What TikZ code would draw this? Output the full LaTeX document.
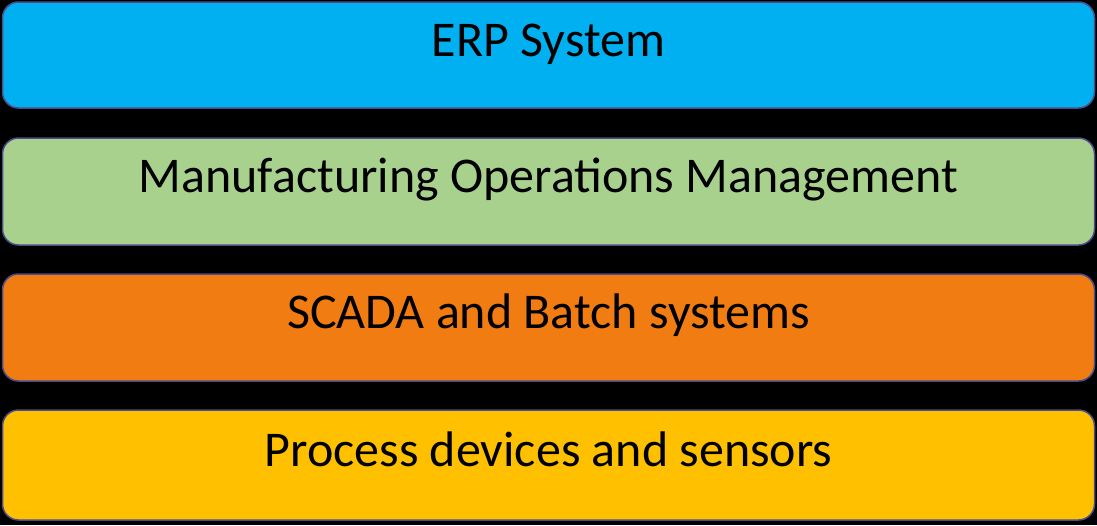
\documentclass[tikz,border=0pt]{standalone}
\usepackage{fontspec}
\setmainfont{Carlito}
\begin{document}
\begin{tikzpicture}[x=1pt,y=-1pt,
  layer/.style={draw=black!40!blue!40!gray, line width=1.5pt, rounded corners=16pt, minimum width=1092pt, text=black, font=\fontsize{50}{60}\selectfont, inner sep=0pt, text height=0.45em, text depth=0.2em}]
\fill[black] (0,0) rectangle (1097,525);
\useasboundingbox (0,0) rectangle (1097,525);
\definecolor{c1}{HTML}{00B0F0}
\definecolor{c2}{HTML}{A9D18E}
\definecolor{c3}{HTML}{F07C12}
\definecolor{c4}{HTML}{FFC000}
\node[layer, fill=c1, minimum height=106pt] (erp) at (548.5,55) {ERP System};
\node[layer, fill=c2, minimum height=107pt] (mom) at (548.5,191.5) {Manufacturing Operations Management};
\node[layer, fill=c3, minimum height=107pt] (scada) at (548.5,327.5) {SCADA and Batch systems};
\node[layer, fill=c4, minimum height=110pt] (dev) at (548.5,465) {Process devices and sensors};
\end{tikzpicture}
\end{document}
